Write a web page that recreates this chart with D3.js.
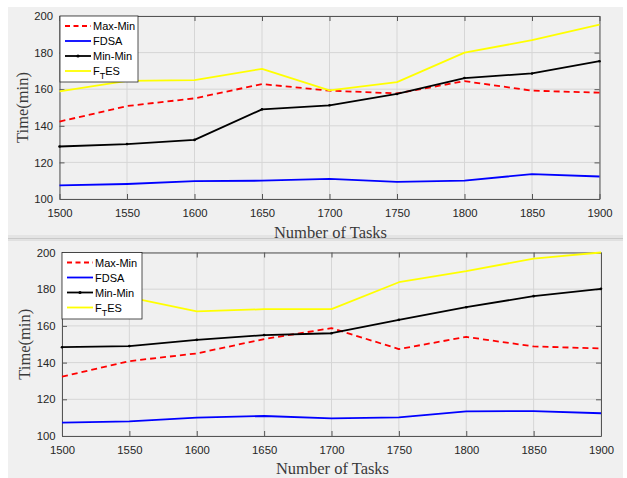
<!DOCTYPE html>
<html>
<head>
<meta charset="utf-8">
<script src="https://cdn.jsdelivr.net/npm/d3@7"></script>
<style>
  html, body { margin: 0; padding: 0; background: #ffffff; }
  svg { display: block; }
</style>
</head>
<body>
<svg id="chart" width="627" height="478"></svg>
<script>
// Task counts on the x axis and tick values
const tasks = [1500, 1550, 1600, 1650, 1700, 1750, 1800, 1850, 1900];
const yTicks = [100, 120, 140, 160, 180, 200];
const seriesNames = ["Max-Min", "FDSA", "Min-Min", "FTES"];

// Upper panel: completion time (min)
const maxMinA = [142.3, 150.8, 155.0, 162.8, 159.2, 157.7, 164.4, 159.2, 158.1];
const fdsaA   = [107.4, 108.2, 109.8, 110.0, 111.0, 109.4, 110.0, 113.6, 112.3];
const minMinA = [128.7, 130.0, 132.3, 149.0, 151.2, 157.4, 166.1, 168.6, 175.3];
const ftesA   = [158.8, 164.5, 165.0, 171.1, 159.4, 163.9, 180.0, 186.8, 195.3];

// Lower panel: completion time (min)
const maxMinB = [132.3, 140.8, 145.0, 152.8, 158.8, 147.4, 154.0, 148.8, 147.7];
const fdsaB   = [107.3, 108.0, 110.0, 110.9, 109.6, 110.2, 113.4, 113.6, 112.4];
const minMinB = [148.4, 149.0, 152.4, 155.0, 156.0, 163.3, 170.2, 176.2, 180.2];
const ftesB   = [165.5, 175.5, 167.9, 169.1, 169.1, 183.8, 189.8, 196.7, 200.0];

const styles = {
  "Max-Min": { color: "#ff0000", dash: "6,4", dot: false },
  "FDSA":    { color: "#0000ff", dash: null, dot: false },
  "Min-Min": { color: "#000000", dash: null, dot: true },
  "FTES":    { color: "#ffff00", dash: null, dot: false }
};

const svg = d3.select("#chart");
const bg = "#f0f0f0";

// Figure backgrounds and the separator band between the two panels
svg.append("rect").attr("x", 8).attr("y", 7).attr("width", 615).attr("height", 228).attr("fill", bg);
svg.append("rect").attr("x", 8).attr("y", 235).attr("width", 615).attr("height", 3).attr("fill", "#e4e4e4");
svg.append("rect").attr("x", 8).attr("y", 238).attr("width", 615).attr("height", 1.5).attr("fill", "#c9c9c9");
svg.append("rect").attr("x", 8).attr("y", 239.5).attr("width", 615).attr("height", 1.5).attr("fill", "#e0e0e0");
svg.append("rect").attr("x", 8).attr("y", 241).attr("width", 615).attr("height", 237).attr("fill", bg);

function drawPanel(box, values, legendBox, xLabelY) {
  const g = svg.append("g");
  const x = d3.scaleLinear().domain([1500, 1900]).range([box.left, box.right]);
  const y = d3.scaleLinear().domain([100, 200]).range([box.bottom, box.top]);

  // grid
  g.append("g").selectAll("line.vx").data(tasks).join("line")
    .attr("x1", d => x(d)).attr("x2", d => x(d))
    .attr("y1", box.top).attr("y2", box.bottom)
    .attr("stroke", "#d6d6d6").attr("stroke-width", 1);
  g.append("g").selectAll("line.hy").data(yTicks).join("line")
    .attr("x1", box.left).attr("x2", box.right)
    .attr("y1", d => y(d)).attr("y2", d => y(d))
    .attr("stroke", "#d6d6d6").attr("stroke-width", 1);

  // axes with inward ticks on all four sides
  const axisStyle = sel => {
    sel.select(".domain").attr("stroke", "#555555").attr("stroke-width", 1);
    sel.selectAll(".tick line").attr("stroke", "#555555");
    sel.selectAll("text").attr("fill", "#262626")
      .style("font-family", "Arial, 'Liberation Sans', Helvetica, sans-serif")
      .style("font-size", "11.3px");
  };
  const xb = g.append("g").attr("transform", `translate(0,${box.bottom})`)
    .call(d3.axisBottom(x).tickValues(tasks).tickFormat(d3.format("d")).tickSizeInner(-5).tickSizeOuter(0).tickPadding(10));
  axisStyle(xb);
  const xt = g.append("g").attr("transform", `translate(0,${box.top})`)
    .call(d3.axisTop(x).tickValues(tasks).tickSizeInner(-5).tickSizeOuter(0).tickFormat(""));
  axisStyle(xt);
  const yl = g.append("g").attr("transform", `translate(${box.left},0)`)
    .call(d3.axisLeft(y).tickValues(yTicks).tickSizeInner(-5).tickSizeOuter(0).tickPadding(6.5));
  axisStyle(yl);
  const yr = g.append("g").attr("transform", `translate(${box.right},0)`)
    .call(d3.axisRight(y).tickValues(yTicks).tickSizeInner(-5).tickSizeOuter(0).tickFormat(""));
  axisStyle(yr);

  // series lines
  const line = d3.line().x((d, i) => x(tasks[i])).y(d => y(d));
  seriesNames.forEach(name => {
    const s = styles[name];
    g.append("path").datum(values[name])
      .attr("d", line).attr("fill", "none")
      .attr("stroke", s.color).attr("stroke-width", 1.8)
      .attr("stroke-dasharray", s.dash)
      .attr("stroke-linejoin", "round");
    if (s.dot) {
      g.append("g").selectAll("circle").data(values[name]).join("circle")
        .attr("cx", (d, i) => x(tasks[i])).attr("cy", d => y(d))
        .attr("r", 1.3).attr("fill", s.color);
    }
  });

  // axis titles
  g.append("text")
    .attr("x", (box.left + box.right) / 2 + 1).attr("y", xLabelY)
    .attr("text-anchor", "middle")
    .style("font-family", "'Times New Roman', 'Liberation Serif', serif")
    .style("font-size", "16.5px").attr("fill", "#3a3a3a")
    .text("Number of Tasks");
  g.append("text")
    .attr("transform", `translate(${box.left - 32},${(box.top + box.bottom) / 2}) rotate(-90)`)
    .attr("text-anchor", "middle")
    .style("font-family", "'Times New Roman', 'Liberation Serif', serif")
    .style("font-size", "16.5px").attr("fill", "#3a3a3a")
    .text("Time(min)");

  // legend
  const lg = g.append("g");
  lg.append("rect")
    .attr("x", legendBox.x).attr("y", legendBox.y)
    .attr("width", legendBox.w).attr("height", legendBox.h)
    .attr("fill", "#ffffff").attr("stroke", "#262626").attr("stroke-width", 0.8);
  seriesNames.forEach((name, i) => {
    const s = styles[name];
    const cy = legendBox.y + 10 + i * legendBox.step;
    lg.append("line")
      .attr("x1", legendBox.x + 5).attr("x2", legendBox.x + 31)
      .attr("y1", cy).attr("y2", cy)
      .attr("stroke", s.color).attr("stroke-width", 1.8)
      .attr("stroke-dasharray", s.dash ? "5,3.5" : null);
    if (s.dot) {
      lg.append("circle").attr("cx", legendBox.x + 18).attr("cy", cy).attr("r", 1.6).attr("fill", s.color);
    }
    const t = lg.append("text")
      .attr("x", legendBox.x + 33).attr("y", cy + 4)
      .style("font-family", "Arial, 'Liberation Sans', Helvetica, sans-serif")
      .style("font-size", "11px").attr("fill", "#000000");
    if (name === "FTES") {
      t.append("tspan").text("F");
      t.append("tspan").attr("dy", 4).style("font-size", "9px").text("T");
      t.append("tspan").attr("dy", -4).text("ES");
    } else {
      t.text(name);
    }
  });
}

drawPanel(
  { left: 59.5, right: 599.5, top: 16, bottom: 199 },
  { "Max-Min": maxMinA, "FDSA": fdsaA, "Min-Min": minMinA, "FTES": ftesA },
  { x: 60, y: 16, w: 78, h: 66, step: 15 },
  237.5
);

drawPanel(
  { left: 62, right: 601, top: 252.5, bottom: 436 },
  { "Max-Min": maxMinB, "FDSA": fdsaB, "Min-Min": minMinB, "FTES": ftesB },
  { x: 62, y: 252.5, w: 80, h: 66.5, step: 15 },
  474
);
</script>
</body>
</html>
